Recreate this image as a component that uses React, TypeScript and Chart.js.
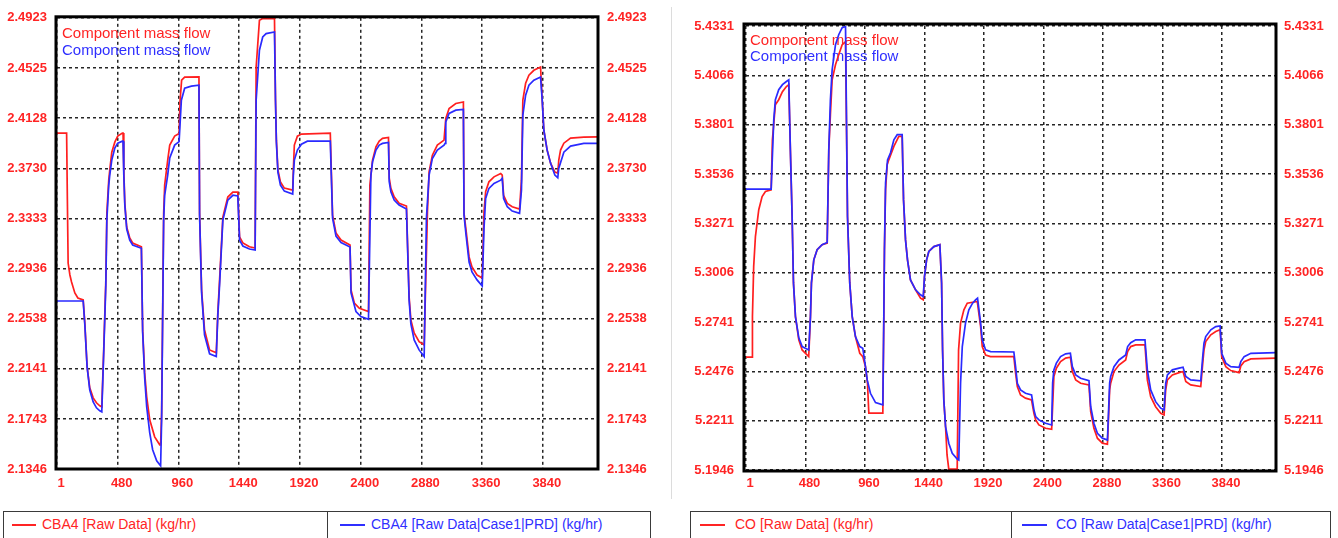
import React, { useEffect, useRef } from "react";
import { Chart, registerables } from "chart.js";

Chart.register(...registerables);

// ---------- shared axis data ----------
const X_TICKS = [1, 480, 960, 1440, 1920, 2400, 2880, 3360, 3840];
const X_MAX = 4276;

// ---------- CBA4 panel ----------
const CBA4_Y_TICKS = [2.1346, 2.1743, 2.2141, 2.2538, 2.2936, 2.3333, 2.373, 2.4128, 2.4525, 2.4923];
const CBA4_Y_LABELS = ["2.1346", "2.1743", "2.2141", "2.2538", "2.2936", "2.3333", "2.3730", "2.4128", "2.4525", "2.4923"];

const CBA4_RAW_X = [
  0, 76, 82, 88, 102, 115, 141, 165, 207, 220,
  238, 259, 286, 312, 338, 354, 370, 386, 394, 409,
  417, 433, 457, 480, 517, 522, 528, 536, 551, 575,
  598, 667, 677, 693, 709, 733, 772, 812, 819, 827,
  835, 843, 851, 875, 891, 930, 965, 973, 985, 1009,
  1122, 1127, 1143, 1166, 1206, 1259, 1271, 1285, 1311, 1350,
  1390, 1429, 1443, 1469, 1521, 1566, 1574, 1600, 1626, 1705,
  1719, 1727, 1734, 1746, 1766, 1797, 1863, 1868, 1876, 1900,
  1932, 2160, 2168, 2178, 2205, 2245, 2316, 2324, 2350, 2390,
  2462, 2473, 2494, 2521, 2547, 2573, 2620, 2626, 2639, 2665,
  2704, 2762, 2783, 2797, 2823, 2862, 2902, 2928, 2941, 2967,
  3006, 3059, 3073, 3099, 3152, 3212, 3217, 3233, 3257, 3280,
  3320, 3361, 3375, 3388, 3414, 3454, 3507, 3519, 3530, 3559,
  3598, 3656, 3671, 3682, 3704, 3730, 3769, 3822, 3835, 3848,
  3874, 3901, 3935, 3958, 3966, 3980, 4006, 4059, 4164, 4276,
];
const CBA4_RAW_Y = [
  2.4009, 2.4009, 2.3478, 2.2979, 2.2884, 2.2829, 2.2742, 2.2702, 2.2686, 2.2504,
  2.2156, 2.1989, 2.191, 2.1871, 2.1847, 2.1839, 2.2314, 2.2845, 2.3375, 2.3636,
  2.3716, 2.3858, 2.3937, 2.3985, 2.4009, 2.4009, 2.3716, 2.3454, 2.3264, 2.3177,
  2.3138, 2.3108, 2.2449, 2.2108, 2.1918, 2.1736, 2.1601, 2.1538, 2.1538, 2.1791,
  2.2583, 2.3375, 2.3597, 2.3795, 2.3914, 2.3985, 2.4005, 2.427, 2.4428, 2.4452,
  2.4454, 2.3375, 2.2765, 2.2449, 2.229, 2.2267, 2.2583, 2.2845, 2.3343, 2.3502,
  2.3541, 2.3541, 2.3187, 2.3138, 2.3108, 2.3098, 2.4531, 2.4903, 2.4917, 2.4917,
  2.4917, 2.427, 2.3953, 2.3716, 2.3621, 2.3573, 2.3557, 2.3716, 2.3914, 2.3985,
  2.4001, 2.4009, 2.3716, 2.3359, 2.3217, 2.3161, 2.3122, 2.2765, 2.2662, 2.262,
  2.2594, 2.3597, 2.3795, 2.39, 2.3945, 2.3967, 2.3974, 2.3652, 2.3571, 2.3504,
  2.3452, 2.3431, 2.2712, 2.2528, 2.2425, 2.2356, 2.233, 2.3385, 2.3702, 2.3834,
  2.3914, 2.3953, 2.4125, 2.4204, 2.4244, 2.4256, 2.3375, 2.324, 2.3027, 2.2948,
  2.2884, 2.286, 2.3385, 2.3544, 2.3623, 2.3662, 2.3689, 2.3676, 2.3516, 2.3452,
  2.3425, 2.3407, 2.3636, 2.427, 2.4404, 2.4468, 2.4507, 2.4533, 2.427, 2.4032,
  2.3874, 2.3771, 2.37, 2.3692, 2.3795, 2.3874, 2.3929, 2.3969, 2.3977, 2.3979,
];

const CBA4_PRD_X = [
  0, 207, 220, 238, 259, 286, 312, 338, 354, 370,
  386, 394, 409, 417, 433, 457, 480, 517, 522, 528,
  536, 551, 575, 598, 667, 677, 693, 709, 733, 756,
  788, 812, 819, 827, 835, 843, 851, 875, 891, 930,
  965, 983, 1009, 1062, 1122, 1127, 1143, 1166, 1206, 1259,
  1271, 1285, 1311, 1350, 1390, 1429, 1443, 1469, 1521, 1566,
  1574, 1600, 1626, 1653, 1719, 1727, 1734, 1746, 1766, 1797,
  1863, 1868, 1876, 1900, 1932, 1979, 2160, 2168, 2178, 2205,
  2245, 2316, 2324, 2363, 2402, 2462, 2481, 2494, 2521, 2547,
  2573, 2620, 2626, 2639, 2665, 2704, 2762, 2783, 2797, 2823,
  2862, 2902, 2920, 2941, 2967, 3006, 3059, 3067, 3073, 3099,
  3152, 3212, 3217, 3233, 3257, 3280, 3320, 3361, 3375, 3388,
  3414, 3454, 3507, 3519, 3530, 3559, 3598, 3656, 3671, 3682,
  3704, 3730, 3769, 3822, 3835, 3848, 3874, 3901, 3935, 3958,
  3966, 4006, 4059, 4164, 4276,
];
const CBA4_PRD_Y = [
  2.2678, 2.2678, 2.2488, 2.2156, 2.1972, 2.1878, 2.1831, 2.1807, 2.1799, 2.229,
  2.2805, 2.332, 2.3597, 2.3676, 2.3795, 2.389, 2.3929, 2.3945, 2.3945, 2.3676,
  2.3438, 2.3248, 2.3161, 2.3122, 2.3096, 2.2433, 2.2069, 2.1839, 2.1633, 2.1499,
  2.1411, 2.138, 2.1372, 2.1736, 2.2528, 2.332, 2.3516, 2.3676, 2.3811, 2.3914,
  2.3941, 2.427, 2.4365, 2.4381, 2.4389, 2.3359, 2.2742, 2.2409, 2.2259, 2.2237,
  2.256, 2.2805, 2.332, 2.3478, 2.3516, 2.351, 2.3161, 2.3114, 2.309, 2.3082,
  2.427, 2.4666, 2.4771, 2.4798, 2.4811, 2.427, 2.3937, 2.37, 2.3597, 2.3549,
  2.3526, 2.3676, 2.3795, 2.3874, 2.3921, 2.3945, 2.3945, 2.3676, 2.3335, 2.3193,
  2.3141, 2.3106, 2.2742, 2.2594, 2.2554, 2.2533, 2.3676, 2.3781, 2.3874, 2.3914,
  2.3927, 2.3935, 2.3623, 2.3544, 2.3478, 2.3438, 2.3407, 2.2686, 2.2496, 2.2369,
  2.229, 2.2237, 2.3335, 2.3676, 2.3808, 2.3874, 2.3914, 2.3927, 2.4098, 2.4165,
  2.4191, 2.4196, 2.3359, 2.3201, 2.2987, 2.2908, 2.2845, 2.2797, 2.3254, 2.3491,
  2.3571, 2.361, 2.3636, 2.365, 2.3491, 2.3425, 2.3391, 2.3373, 2.3557, 2.4151,
  2.4309, 2.4389, 2.4428, 2.4454, 2.427, 2.4032, 2.3874, 2.3771, 2.3676, 2.3655,
  2.3731, 2.3858, 2.3906, 2.3927, 2.3927,
];

// ---------- CO panel ----------
const CO_Y_TICKS = [5.1946, 5.2211, 5.2476, 5.2741, 5.3006, 5.3271, 5.3536, 5.3801, 5.4066, 5.4331];
const CO_Y_LABELS = ["5.1946", "5.2211", "5.2476", "5.2741", "5.3006", "5.3271", "5.3536", "5.3801", "5.4066", "5.4331"];

const CO_RAW_X = [
  0, 49, 52, 62, 76, 103, 130, 157, 203, 213,
  237, 264, 294, 326, 345, 358, 372, 383, 399, 426,
  453, 506, 520, 528, 547, 574, 614, 655, 668, 681,
  695, 722, 748, 776, 803, 819, 837, 857, 883, 918,
  942, 964, 980, 991, 1104, 1112, 1117, 1126, 1139, 1152,
  1193, 1233, 1260, 1271, 1287, 1303, 1327, 1368, 1408, 1430,
  1440, 1457, 1475, 1516, 1564, 1578, 1586, 1596, 1610, 1622,
  1636, 1704, 1715, 1731, 1758, 1785, 1866, 1893, 1906, 1933,
  1973, 2161, 2175, 2189, 2215, 2255, 2304, 2323, 2337, 2363,
  2417, 2466, 2484, 2504, 2538, 2579, 2617, 2633, 2660, 2700,
  2767, 2781, 2807, 2835, 2875, 2916, 2934, 2942, 2969, 3009,
  3063, 3079, 3104, 3144, 3219, 3238, 3265, 3305, 3346, 3373,
  3386, 3400, 3440, 3494, 3526, 3548, 3588, 3669, 3685, 3695,
  3709, 3750, 3790, 3825, 3838, 3871, 3911, 3978, 3992, 4019,
  4073, 4276,
];
const CO_RAW_Y = [
  5.2552, 5.2552, 5.277, 5.3039, 5.32, 5.3344, 5.3415, 5.3442, 5.3451, 5.372,
  5.3908, 5.3935, 5.3978, 5.4006, 5.4016, 5.3666, 5.3308, 5.2951, 5.277, 5.2645,
  5.2591, 5.2555, 5.277, 5.2951, 5.3075, 5.3129, 5.3156, 5.3165, 5.3666, 5.3854,
  5.4042, 5.4123, 5.4177, 5.4231, 5.4247, 5.3308, 5.2951, 5.277, 5.2663, 5.2573,
  5.2555, 5.2501, 5.2414, 5.2251, 5.2251, 5.277, 5.3129, 5.3451, 5.3586, 5.3612,
  5.3684, 5.3738, 5.3738, 5.3397, 5.3182, 5.3075, 5.2967, 5.2914, 5.2869, 5.286,
  5.2985, 5.3075, 5.312, 5.3146, 5.3156, 5.2951, 5.2591, 5.2322, 5.2179, 5.2027,
  5.1951, 5.1951, 5.2591, 5.2735, 5.2806, 5.2842, 5.2851, 5.2716, 5.2609, 5.2564,
  5.2555, 5.2555, 5.2466, 5.2394, 5.2349, 5.2332, 5.2322, 5.2251, 5.2215, 5.2188,
  5.217, 5.2165, 5.2448, 5.2493, 5.2528, 5.2547, 5.2552, 5.2475, 5.243, 5.2412,
  5.2403, 5.226, 5.217, 5.2117, 5.209, 5.2084, 5.2376, 5.2412, 5.2475, 5.251,
  5.2537, 5.2582, 5.2609, 5.2618, 5.2618, 5.243, 5.234, 5.2286, 5.2251, 5.2242,
  5.2376, 5.243, 5.2457, 5.2469, 5.2475, 5.2421, 5.2403, 5.2394, 5.252, 5.2591,
  5.2636, 5.2672, 5.269, 5.2699, 5.2555, 5.2501, 5.248, 5.2469, 5.2505, 5.2528,
  5.2543, 5.2547,
];

const CO_PRD_X = [
  0, 203, 224, 237, 264, 294, 326, 345, 358, 372,
  383, 399, 426, 453, 506, 520, 528, 547, 574, 614,
  655, 668, 681, 695, 722, 748, 776, 803, 819, 837,
  857, 883, 918, 942, 964, 978, 1004, 1045, 1104, 1112,
  1117, 1126, 1142, 1166, 1193, 1220, 1260, 1271, 1287, 1303,
  1327, 1368, 1408, 1430, 1440, 1457, 1475, 1516, 1564, 1578,
  1586, 1596, 1610, 1636, 1664, 1704, 1717, 1731, 1745, 1771,
  1798, 1828, 1852, 1868, 1893, 1906, 1933, 1973, 2161, 2175,
  2189, 2215, 2255, 2304, 2323, 2337, 2363, 2417, 2466, 2474,
  2484, 2504, 2538, 2579, 2617, 2633, 2660, 2700, 2767, 2781,
  2807, 2835, 2875, 2916, 2934, 2942, 2969, 3009, 3063, 3079,
  3104, 3144, 3219, 3238, 3265, 3305, 3346, 3373, 3386, 3400,
  3440, 3494, 3526, 3548, 3588, 3669, 3685, 3695, 3709, 3750,
  3790, 3825, 3838, 3871, 3911, 3978, 3992, 4019, 4073, 4276,
];
const CO_PRD_Y = [
  5.3455, 5.3455, 5.3827, 5.3935, 5.3989, 5.4016, 5.4033, 5.4042, 5.3666, 5.3308,
  5.2951, 5.277, 5.2656, 5.2609, 5.2591, 5.277, 5.2951, 5.3075, 5.3129, 5.3156,
  5.3168, 5.3666, 5.3935, 5.4096, 5.4231, 5.4284, 5.4322, 5.4329, 5.3308, 5.2951,
  5.277, 5.2663, 5.2609, 5.26, 5.2501, 5.243, 5.2358, 5.2308, 5.2296, 5.277,
  5.3129, 5.3489, 5.3612, 5.365, 5.372, 5.3747, 5.3747, 5.3397, 5.3182, 5.3075,
  5.2967, 5.2914, 5.2887, 5.2878, 5.2985, 5.3075, 5.312, 5.3146, 5.3156, 5.2951,
  5.2591, 5.2322, 5.2179, 5.209, 5.2036, 5.2005, 5.2, 5.2412, 5.2609, 5.2735,
  5.2806, 5.2842, 5.286, 5.2869, 5.2735, 5.2645, 5.2591, 5.2582, 5.258, 5.2501,
  5.2412, 5.2376, 5.2358, 5.2349, 5.2269, 5.2233, 5.2215, 5.2197, 5.2188, 5.2414,
  5.2484, 5.252, 5.2555, 5.257, 5.2573, 5.2501, 5.2457, 5.2439, 5.2426, 5.2286,
  5.2197, 5.2143, 5.2117, 5.2107, 5.2414, 5.2448, 5.2501, 5.2537, 5.2564, 5.2609,
  5.263, 5.2645, 5.2645, 5.2484, 5.2376, 5.2313, 5.2278, 5.2269, 5.2412, 5.2457,
  5.2484, 5.2493, 5.2498, 5.2448, 5.243, 5.2425, 5.2555, 5.2627, 5.2663, 5.2699,
  5.2716, 5.272, 5.2573, 5.252, 5.2501, 5.2498, 5.2528, 5.2555, 5.2573, 5.2577,
];

const INNER_LABEL = "Component mass flow";

// ---------- styles ----------
const RED = "#ff1f1f";
const BLUE = "#2a2aff";
const TXT_RED = "#ff2424";
const TXT_BLUE = "#2f2fff";
const GRID = "#262626";
const FONT = '"Liberation Sans", Arial, sans-serif';

type Area = { left: number; right: number; top: number; bottom: number; padL: number; padR: number; padX: number };

type PanelProps = {
  left: number;
  width: number;
  height: number;
  area: Area;
  rawX: number[];
  rawY: number[];
  prdX: number[];
  prdY: number[];
  yTicks: number[];
  yLabels: string[];
  frameOffset: { l: number; t: number; r: number; b: number };
  textOffset: { x: number; y1: number; y2: number };
};

function Panel(p: PanelProps) {
  const ref = useRef<HTMLCanvasElement | null>(null);

  useEffect(() => {
    if (!ref.current) return;
    const zip = (xs: number[], ys: number[]) => xs.map((x, i) => ({ x, y: ys[i] }));
    const tickFont = { family: FONT, size: 13, weight: "bold" as const };
    const yMin = p.yTicks[0];
    const yMax = p.yTicks[p.yTicks.length - 1];

    const framePlugin = {
      id: "frame",
      beforeDatasetsDraw(chart: any) {
        const { ctx, chartArea: a } = chart;
        ctx.save();
        ctx.font = `15px ${FONT}`;
        ctx.textBaseline = "middle";
        ctx.textAlign = "left";
        ctx.fillStyle = TXT_RED;
        ctx.fillText(INNER_LABEL, a.left + p.textOffset.x, a.top + p.textOffset.y1);
        ctx.fillStyle = TXT_BLUE;
        ctx.fillText(INNER_LABEL, a.left + p.textOffset.x, a.top + p.textOffset.y2);
        ctx.restore();
      },
      afterDatasetsDraw(chart: any) {
        const { ctx, chartArea: a } = chart;
        ctx.save();
        ctx.strokeStyle = "#000";
        ctx.lineWidth = 3;
        ctx.strokeRect(
          a.left - p.frameOffset.l,
          a.top - p.frameOffset.t,
          a.right - a.left + p.frameOffset.l + p.frameOffset.r,
          a.bottom - a.top + p.frameOffset.t + p.frameOffset.b
        );
        ctx.restore();
      },
    };

    const yTickSetter = (s: any) => {
      s.ticks = p.yTicks.map((v) => ({ value: v }));
    };

    const chart = new Chart(ref.current, {
      type: "line",
      data: {
        datasets: [
          {
            label: "raw",
            data: zip(p.rawX, p.rawY),
            borderColor: RED,
            backgroundColor: RED,
            borderWidth: 1.7,
            pointRadius: 0,
            fill: false,
            tension: 0,
            order: 2,
          },
          {
            label: "prd",
            data: zip(p.prdX, p.prdY),
            borderColor: BLUE,
            backgroundColor: BLUE,
            borderWidth: 1.7,
            pointRadius: 0,
            fill: false,
            tension: 0,
            order: 1,
          },
        ],
      },
      options: {
        animation: false,
        responsive: false,
        maintainAspectRatio: false,
        layout: { padding: { top: p.area.top, left: 0, right: 0, bottom: 0 } },
        plugins: { legend: { display: false }, tooltip: { enabled: false } },
        scales: {
          x: {
            type: "linear",
            min: 0,
            max: X_MAX,
            afterBuildTicks: (s: any) => {
              s.ticks = X_TICKS.map((v) => ({ value: v }));
            },
            afterFit: (s: any) => {
              s.height = p.height - p.area.bottom;
            },
            ticks: {
              autoSkip: false,
              maxRotation: 0,
              minRotation: 0,
              padding: p.area.padX,
              labelOffset: 4,
              color: TXT_RED,
              font: tickFont,
              callback: (v: any) => String(v),
            },
            grid: { color: GRID, lineWidth: 1.5, drawTicks: false },
            border: { display: false, dash: [3, 3] },
          },
          y: {
            type: "linear",
            position: "left",
            min: yMin,
            max: yMax,
            afterBuildTicks: yTickSetter,
            afterFit: (s: any) => {
              s.width = p.area.left;
            },
            ticks: {
              autoSkip: false,
              padding: p.area.padL,
              color: TXT_RED,
              font: tickFont,
              callback: (_v: any, i: number) => p.yLabels[i],
            },
            grid: { color: GRID, lineWidth: 1.5, drawTicks: false },
            border: { display: false, dash: [3, 3] },
          },
          y2: {
            type: "linear",
            position: "right",
            min: yMin,
            max: yMax,
            afterBuildTicks: yTickSetter,
            afterFit: (s: any) => {
              s.width = p.width - p.area.right;
            },
            ticks: {
              autoSkip: false,
              padding: p.area.padR,
              color: TXT_RED,
              font: tickFont,
              callback: (_v: any, i: number) => p.yLabels[i],
            },
            grid: { display: false, drawTicks: false },
            border: { display: false },
          },
        },
      } as any,
      plugins: [framePlugin],
    });
    return () => chart.destroy();
  }, []);

  return (
    <canvas
      ref={ref}
      width={p.width}
      height={p.height}
      style={{ position: "absolute", left: p.left, top: 0, width: p.width, height: p.height }}
    />
  );
}

type LegendCell = { color: string; text: string; lineLeft: number; lineWidth: number; textLeft: number };

function LegendBox(props: { left: number; width: number; split: number; cells: LegendCell[] }) {
  const top = 511;
  const h = 40;
  const border = "1px solid #3a3a3a";
  return (
    <div
      style={{
        position: "absolute",
        left: props.left,
        top,
        width: props.width,
        height: h,
        border,
        boxSizing: "border-box",
        background: "#fff",
      }}
    >
      <div style={{ position: "absolute", left: props.split - props.left - 1, top: 0, width: 1, height: h, background: "#3a3a3a" }} />
      {props.cells.map((c, i) => (
        <React.Fragment key={i}>
          <div
            style={{
              position: "absolute",
              left: c.lineLeft - props.left - 1,
              top: 12,
              width: c.lineWidth,
              height: 2,
              background: c.color,
            }}
          />
          <div
            style={{
              position: "absolute",
              left: c.textLeft - props.left - 1,
              top: 4,
              font: `14px ${FONT}`,
              lineHeight: "16px",
              color: c.color,
              whiteSpace: "nowrap",
            }}
          >
            {c.text}
          </div>
        </React.Fragment>
      ))}
    </div>
  );
}

export default function App() {
  return (
    <div style={{ position: "absolute", left: 0, top: 0, width: 1338, height: 538, overflow: "hidden", background: "#fff" }}>
      <Panel
        left={0}
        width={670}
        height={500}
        area={{ left: 57, right: 598, top: 17, bottom: 469, padL: 10, padR: 9, padX: 7 }}
        rawX={CBA4_RAW_X}
        rawY={CBA4_RAW_Y}
        prdX={CBA4_PRD_X}
        prdY={CBA4_PRD_Y}
        yTicks={CBA4_Y_TICKS}
        yLabels={CBA4_Y_LABELS}
        frameOffset={{ l: 1, t: 1, r: 0, b: 0 }}
        textOffset={{ x: 5, y1: 16, y2: 33 }}
      />
      <div style={{ position: "absolute", left: 671, top: 7, width: 1, height: 492, background: "#dcdcdc" }} />
      <Panel
        left={672}
        width={666}
        height={500}
        area={{ left: 74, right: 604, top: 26, bottom: 470, padL: 12, padR: 8, padX: 6 }}
        rawX={CO_RAW_X}
        rawY={CO_RAW_Y}
        prdX={CO_PRD_X}
        prdY={CO_PRD_Y}
        yTicks={CO_Y_TICKS}
        yLabels={CO_Y_LABELS}
        frameOffset={{ l: 2, t: 2, r: 0, b: 1 }}
        textOffset={{ x: 4, y1: 15, y2: 31 }}
      />
      <LegendBox
        left={3}
        width={648}
        split={327}
        cells={[
          { color: TXT_RED, text: "CBA4 [Raw Data] (kg/hr)", lineLeft: 12, lineWidth: 24, textLeft: 42 },
          { color: TXT_BLUE, text: "CBA4 [Raw Data|Case1|PRD] (kg/hr)", lineLeft: 340, lineWidth: 25, textLeft: 371 },
        ]}
      />
      <LegendBox
        left={690}
        width={641}
        split={1011}
        cells={[
          { color: TXT_RED, text: "CO [Raw Data] (kg/hr)", lineLeft: 700, lineWidth: 25, textLeft: 735 },
          { color: TXT_BLUE, text: "CO [Raw Data|Case1|PRD] (kg/hr)", lineLeft: 1022, lineWidth: 25, textLeft: 1056 },
        ]}
      />
    </div>
  );
}
